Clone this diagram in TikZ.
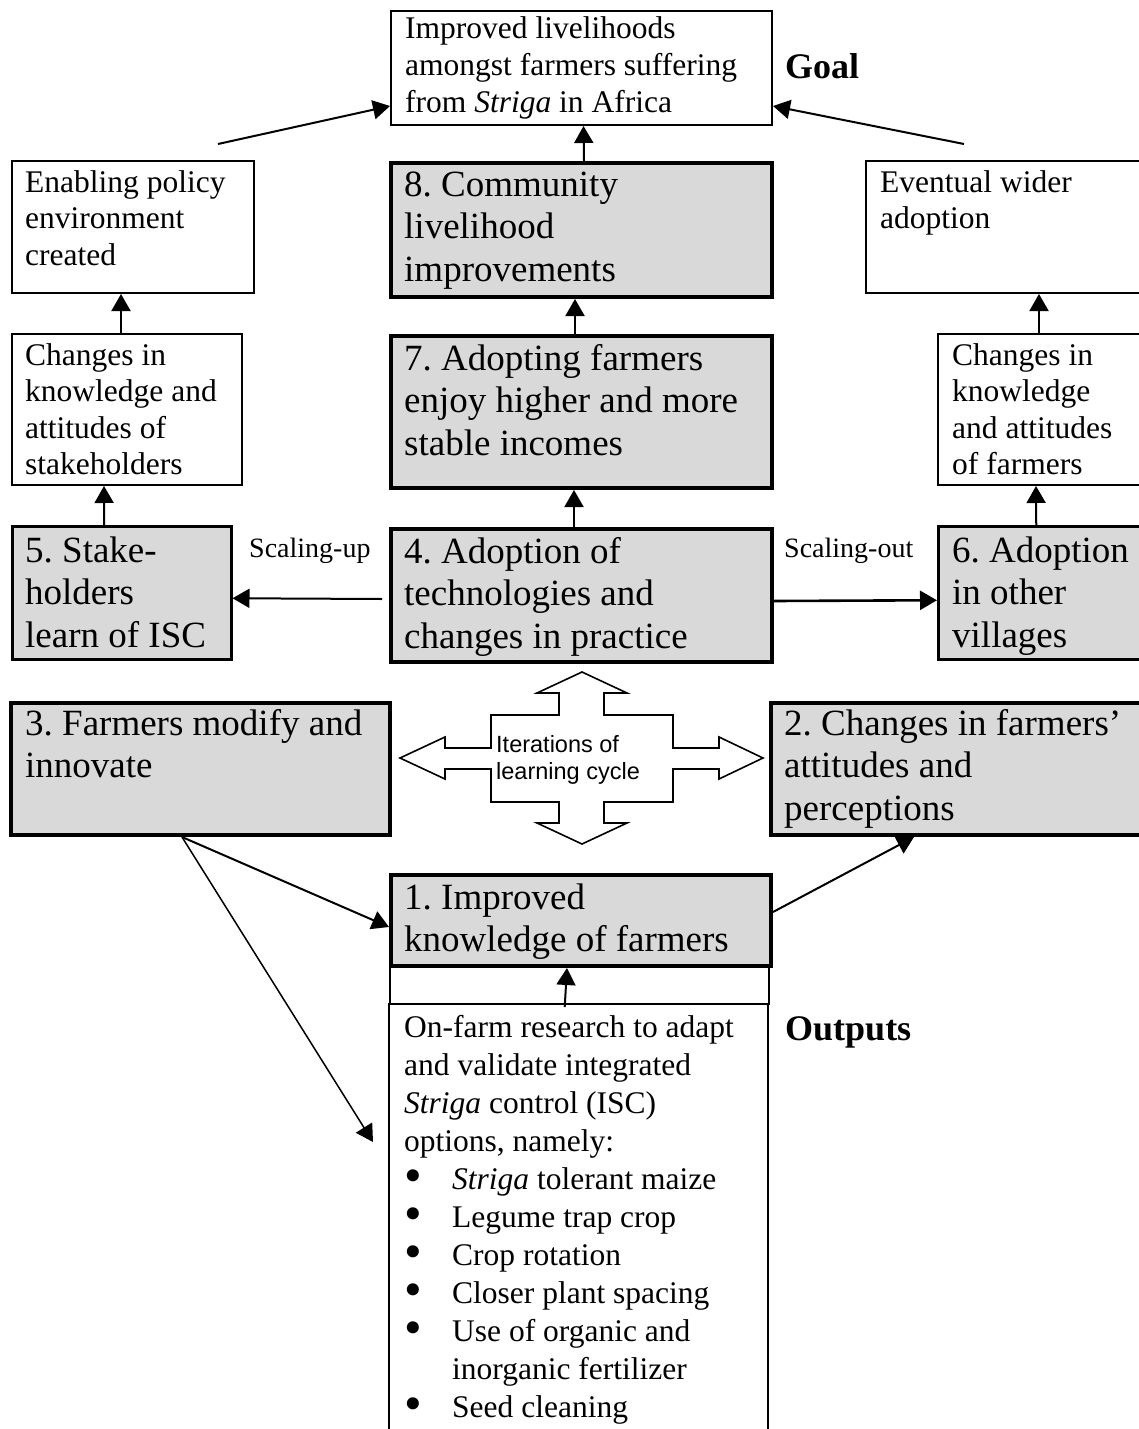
\documentclass[tikz,border=0pt]{standalone}
\usepackage{fontspec}
\setmainfont{Liberation Serif}
\newfontfamily\arialf{Liberation Sans}
\usetikzlibrary{arrows.meta}
\definecolor{boxgrey}{HTML}{D9D9D9}
\tikzset{
  wbox/.style={draw, line width=2pt, fill=white, inner sep=0pt, anchor=north west},
  gboxm/.style={draw, line width=2.5pt, fill=boxgrey, inner sep=0pt, anchor=north west},
  gboxt/.style={draw, line width=4pt, fill=boxgrey, inner sep=0pt, anchor=north west},
  btxt/.style={anchor=base west, align=left, inner sep=0pt, font=\fontsize{37}{42.5}\selectfont},
  stxt/.style={anchor=base west, align=left, inner sep=0pt, font=\fontsize{31.5}{36.6}\selectfont},
  otxt/.style={anchor=base west, align=left, inner sep=0pt, font=\fontsize{31.5}{38}\selectfont},
  lbl/.style={anchor=base west, inner sep=0pt, font=\fontsize{36}{40}\selectfont\bfseries},
  scl/.style={anchor=base west, inner sep=0pt, font=\fontsize{28}{32}\selectfont},
  arr/.style={line width=2pt, -{Triangle[length=17pt,width=19pt]}},
}
\newcommand{\bul}[1]{\makebox[48pt][l]{\smash{\raisebox{-0.1em}{\scalebox{1.6}{\textbullet}}}}#1}
\begin{document}
\frenchspacing
\begin{tikzpicture}[x=1pt,y=-1pt]
\useasboundingbox (0,0) rectangle (1139,1429);
% ---- boxes ----
\node[wbox, minimum width=381pt, minimum height=114pt] (goal) at (390,10) {};
\node[wbox, minimum width=242pt, minimum height=132pt] (enab) at (11,160) {};
\node[gboxt, minimum width=381pt, minimum height=134pt] (b8) at (389,161) {};
\node[wbox, minimum width=285pt, minimum height=132pt] (even) at (865,160) {};
\node[wbox, minimum width=230pt, minimum height=151pt] (chst) at (11,333) {};
\node[gboxt, minimum width=381pt, minimum height=152pt] (b7) at (389,334) {};
\node[wbox, minimum width=213pt, minimum height=151pt] (chfa) at (937,333) {};
\node[gboxm, minimum width=219pt, minimum height=133pt] (b5) at (11,525) {};
\node[gboxt, minimum width=381pt, minimum height=133pt] (b4) at (389,527) {};
\node[gboxm, minimum width=213pt, minimum height=133pt] (b6) at (937,525) {};
\node[gboxt, minimum width=379pt, minimum height=132pt] (b3) at (9,701) {};
\node[gboxt, minimum width=381pt, minimum height=132pt] (b2) at (769,701) {};
\node[wbox, minimum width=379pt, minimum height=39pt] (emp) at (389,964) {};
\node[gboxt, minimum width=380pt, minimum height=91pt] (b1) at (389,873) {};
\node[inner sep=0pt, anchor=north west, minimum width=379pt, minimum height=437pt] (out) at (389,1003) {};
\draw[line width=2pt] (out.north west) -- (out.south west);
\draw[line width=2pt] (out.north east) -- (out.south east);
% ---- texts (anchored at the baseline of the last line) ----
\node[stxt] (tgoal) at (405,112.2) {Improved livelihoods\\amongst farmers suffering\\from \textit{Striga} in Africa};
\node[lbl] (lgoal) at (785,78) {Goal};
\node[stxt] (tenab) at (25,265.2) {Enabling policy\\environment\\created};
\node[btxt] (tb8) at (404,281) {8. Community\\livelihood\\improvements};
\node[stxt] (teven) at (880,228.6) {Eventual wider\\adoption};
\node[stxt] (tchst) at (25,474.8) {Changes in\\knowledge and\\attitudes of\\stakeholders};
\node[btxt] (tb7) at (404,455) {7. Adopting farmers\\enjoy higher and more\\stable incomes};
\node[stxt] (tchfa) at (952,474.8) {Changes in\\knowledge\\and attitudes\\of farmers};
\node[btxt] (tb5) at (25,647) {5. Stake-\\holders\\learn of ISC};
\node[btxt] (tb4) at (404,648) {4. Adoption of\\technologies and\\changes in practice};
\node[btxt] (tb6) at (952,647) {6. Adoption\\in other\\villages};
\node[scl] (sup) at (249,557) {Scaling-up};
\node[scl] (sout) at (784,557) {Scaling-out};
\node[btxt] (tb3) at (25,777.5) {3. Farmers modify and\\innovate};
\node[btxt] (tb2) at (784,820) {2. Changes in farmers’\\attitudes and\\perceptions};
\node[btxt] (tb1) at (404,951.5) {1. Improved\\knowledge of farmers};
\node[otxt] (tout) at (404,1417) {On-farm research to adapt\\and validate integrated\\\textit{Striga} control (ISC)\\options, namely:\\\bul{\textit{Striga} tolerant maize}\\\bul{Legume trap crop}\\\bul{Crop rotation}\\\bul{Closer plant spacing}\\\bul{Use of organic and}\\\hspace*{48pt}inorganic fertilizer\\\bul{Seed cleaning}};
\node[lbl] (lout) at (785,1040) {Outputs};
% ---- learning cycle cross ----
\draw[line width=1.6pt, fill=white]
  (582,672) -- (627,693) -- (604,693) -- (604,715) -- (673,715) -- (673,748)
  -- (719,748) -- (719,737) -- (763,758) -- (719,779) -- (719,769) -- (673,769)
  -- (673,802) -- (604,802) -- (604,823) -- (627,823) -- (582,844) -- (537,823)
  -- (559,823) -- (559,802) -- (491,802) -- (491,769) -- (445,769) -- (445,779)
  -- (400,758) -- (445,737) -- (445,748) -- (491,748) -- (491,715) -- (559,715)
  -- (559,693) -- (537,693) -- cycle;
\node[anchor=base west, align=left, inner sep=0pt, font=\arialf\fontsize{23.5}{27}\selectfont] (tcyc) at (496,779) {Iterations of\\learning cycle};
% ---- connectors ----
\coordinate (s1) at (218,144);
\coordinate (s2) at (964,144);
\coordinate (otip) at (373,1142);
\draw[arr] (s1) -- ([yshift=-38pt]goal.west);
\draw[arr] (s2) -- ([yshift=-38pt]goal.east);
\draw[arr] ([xshift=2.5pt]b8.north) -- ([xshift=2pt]goal.south);
\draw[arr] ([xshift=-6pt]chst.north) -- ([xshift=-12pt]enab.south);
\draw[arr] ([xshift=-6.5pt]b7.north) -- ([xshift=-6.5pt]b8.south);
\draw[arr] ([xshift=-5.5pt]chfa.north) -- ([xshift=30.5pt]even.south);
\draw[arr] ([xshift=-17.5pt]b5.north) -- ([xshift=-23pt]chst.south);
\draw[arr] ([xshift=-7.5pt]b4.north) -- ([xshift=-7.5pt]b7.south);
\draw[arr] ([xshift=-8.5pt]b6.north) -- ([xshift=-8.5pt]chfa.south);
\draw[arr] ([xshift=-7pt,yshift=-3.5pt]b4.west) -- ([yshift=-5.5pt]b5.east);
\draw[arr, line width=2.6pt] ([yshift=-5.5pt]b4.east) -- ([yshift=-7.5pt]b6.west);
\draw[arr] ([xshift=-18.5pt]b3.south) -- ([yshift=-6.5pt]b1.west);
\draw[arr, line width=1.5pt] ([xshift=-18.5pt]b3.south) -- (otip);
\draw[arr] ([yshift=8.5pt]b1.east) -- ([xshift=-47.5pt]b2.south);
\draw[arr] ([xshift=-14pt,yshift=-4pt]out.north) -- ([xshift=-14pt]b1.south);
\end{tikzpicture}
\end{document}
